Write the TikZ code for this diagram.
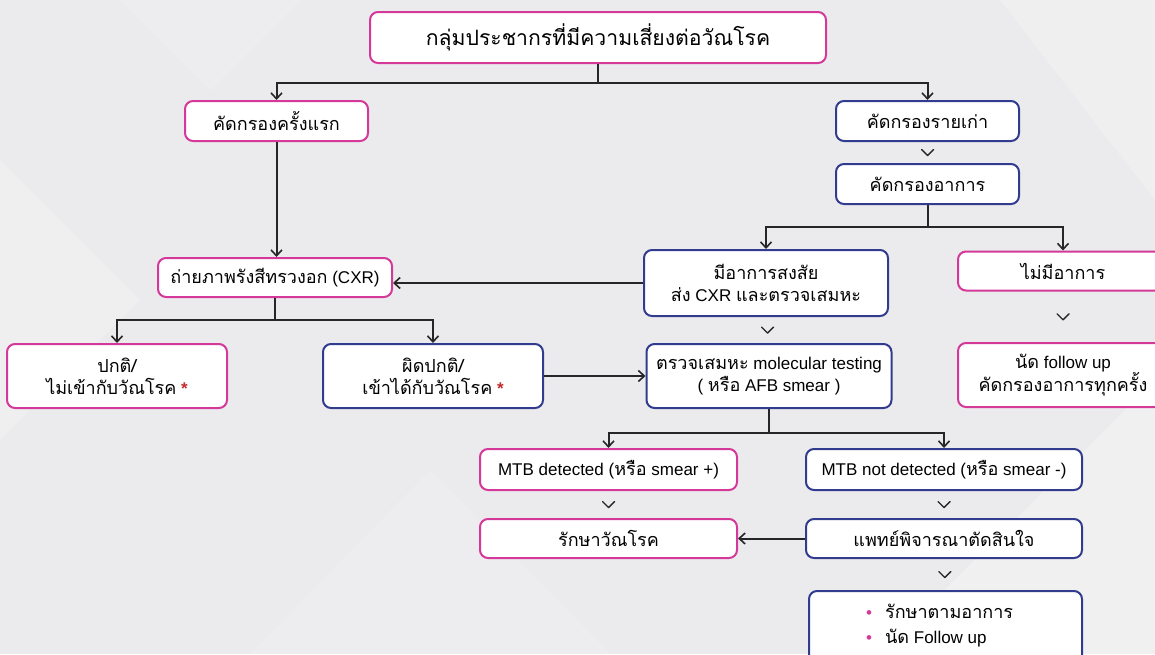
\documentclass[tikz,border=0pt]{standalone}
\usepackage{fontspec}
\setmainfont{Liberation Sans}
\newfontfamily\thai[Script=Thai,Scale=1.06]{Loma}
\usetikzlibrary{arrows.meta,calc}
\definecolor{pinkb}{HTML}{D4399A}
\definecolor{blueb}{HTML}{323C8E}
\definecolor{bgc}{HTML}{EBEBED}
\definecolor{astc}{HTML}{C42B2B}
\definecolor{linec}{HTML}{262626}
\newcommand\T[1]{{\thai #1}}
\newcommand\chevron[2]{%
  \path (#1.south) -- (#2.north) coordinate[pos=0.5] (cm);
  \draw[chevline] ($(cm)+(-6,-3)$) -- ($(cm)+(0,3)$) -- ($(cm)+(6,-3)$);}
\tikzset{
  box/.style={draw, line width=2pt, rounded corners=8pt, fill=white, align=center,
    inner sep=0pt, text=black, font=\fontsize{17}{22}\selectfont},
  pbox/.style={box, draw=pinkb},
  bbox/.style={box, draw=blueb},
  arr/.style={draw=linec, line width=2pt, -{Straight Barb[length=6pt,width=11pt,line width=1.6pt]}},
  ln/.style={draw=linec, line width=2pt},
  chevline/.style={draw=linec, line width=1.4pt, line cap=round, line join=round},
}
\begin{document}
\begin{tikzpicture}[x=1pt,y=-1pt]
\useasboundingbox (0,0) rectangle (1155,654);
\clip (0,0) rectangle (1155,654);
% background
\fill[bgc] (0,0) rectangle (1155,654);
\fill[white,opacity=0.2] (0,160) -- (140,300) -- (0,440) -- cycle;
\fill[white,opacity=0.25] (880,654) -- (1155,380) -- (1155,654) -- cycle;
\fill[white,opacity=0.2] (1000,0) -- (1155,0) -- (1155,200) -- cycle;
\fill[white,opacity=0.15] (250,654) -- (430,470) -- (610,654) -- cycle;
\fill[white,opacity=0.15] (120,0) -- (300,0) -- (210,90) -- cycle;

% nodes
\node[pbox, minimum width=456pt, minimum height=51pt, font=\fontsize{20}{26}\selectfont] (top) at (598,37.5) {\T{กลุ่มประชากรที่มีความเสี่ยงต่อวัณโรค}};
\node[pbox, minimum width=183pt, minimum height=40pt] (first) at (276.5,121) {\T{คัดกรองครั้งแรก}};
\node[bbox, minimum width=183pt, minimum height=40pt] (old) at (927.5,121) {\T{คัดกรองรายเก่า}};
\node[bbox, minimum width=183pt, minimum height=40pt] (symp) at (927.5,184) {\T{คัดกรองอาการ}};
\node[pbox, minimum width=234pt, minimum height=39pt] (cxr) at (275,277.5) {\T{ถ่ายภาพรังสีทรวงอก} (CXR)};
\node[bbox, minimum width=244pt, minimum height=66pt] (susp) at (766,283) {\T{มีอาการสงสัย}\\\T{ส่ง} CXR \T{และตรวจเสมหะ}};
\node[pbox, minimum width=210pt, minimum height=39pt] (nosymp) at (1063,271) {\T{ไม่มีอาการ}};
\node[pbox, minimum width=210pt, minimum height=64pt] (fu) at (1063,375) {\T{นัด} follow up\\\T{คัดกรองอาการทุกครั้ง}};
\node[pbox, minimum width=220pt, minimum height=64pt] (normal) at (117,376) {\T{ปกติ/}\\\T{ไม่เข้ากับวัณโรค} \textcolor{astc}{\textbf{*}}};
\node[bbox, minimum width=220pt, minimum height=64pt] (abn) at (433,376) {\T{ผิดปกติ/}\\\T{เข้าได้กับวัณโรค} \textcolor{astc}{\textbf{*}}};
\node[bbox, minimum width=245pt, minimum height=64pt] (mol) at (769,376) {\T{ตรวจเสมหะ} molecular testing\\( \T{หรือ} AFB smear )};
\node[pbox, minimum width=257pt, minimum height=41pt] (mtbd) at (608.5,469.5) {MTB detected (\T{หรือ} smear +)};
\node[bbox, minimum width=276pt, minimum height=41pt] (mtbn) at (944,469.5) {MTB not detected (\T{หรือ} smear -)};
\node[pbox, minimum width=257pt, minimum height=39pt] (treat) at (608.5,538.5) {\T{รักษาวัณโรค}};
\node[bbox, minimum width=276pt, minimum height=39pt] (doc) at (944,538.5) {\T{แพทย์พิจารณาตัดสินใจ}};
\node[bbox, minimum width=273pt, minimum height=72pt, anchor=north] (bul) at (945.5,590) {};
\node[anchor=north west, align=left, inner sep=0pt, font=\fontsize{17}{25}\selectfont] (bultext) at (866,604)
  {\textcolor{pinkb}{\textbullet}\hspace{13pt}\T{รักษาตามอาการ}\\\textcolor{pinkb}{\textbullet}\hspace{13pt}\T{นัด} Follow up};

% connectors
\draw[ln] (top.south) -- ++(0,19) coordinate (j1);
\draw[arr] (j1) -| (first.north);
\draw[arr] (j1) -| (old.north);
\draw[arr] (first.south) -- (first.south |- cxr.north);
\chevron{old}{symp}
\draw[ln] (symp.south) -- ++(0,22) coordinate (j2);
\draw[arr] (j2) -| (susp.north);
\draw[arr] (j2) -| (nosymp.north);
\draw[arr] (susp.west) -- (susp.west -| cxr.east);
\chevron{susp}{mol}
\chevron{nosymp}{fu}
\draw[ln] (cxr.south) -- ++(0,22) coordinate (j3);
\draw[arr] (j3) -| (normal.north);
\draw[arr] (j3) -| (abn.north);
\draw[arr] (abn.east) -- (abn.east -| mol.west);
\draw[ln] (mol.south) -- ++(0,24) coordinate (j4);
\draw[arr] (j4) -| (mtbd.north);
\draw[arr] (j4) -| (mtbn.north);
\chevron{mtbd}{treat}
\chevron{mtbn}{doc}
\draw[arr] (doc.west) -- (doc.west -| treat.east);
\chevron{doc}{bul}
\end{tikzpicture}
\end{document}
